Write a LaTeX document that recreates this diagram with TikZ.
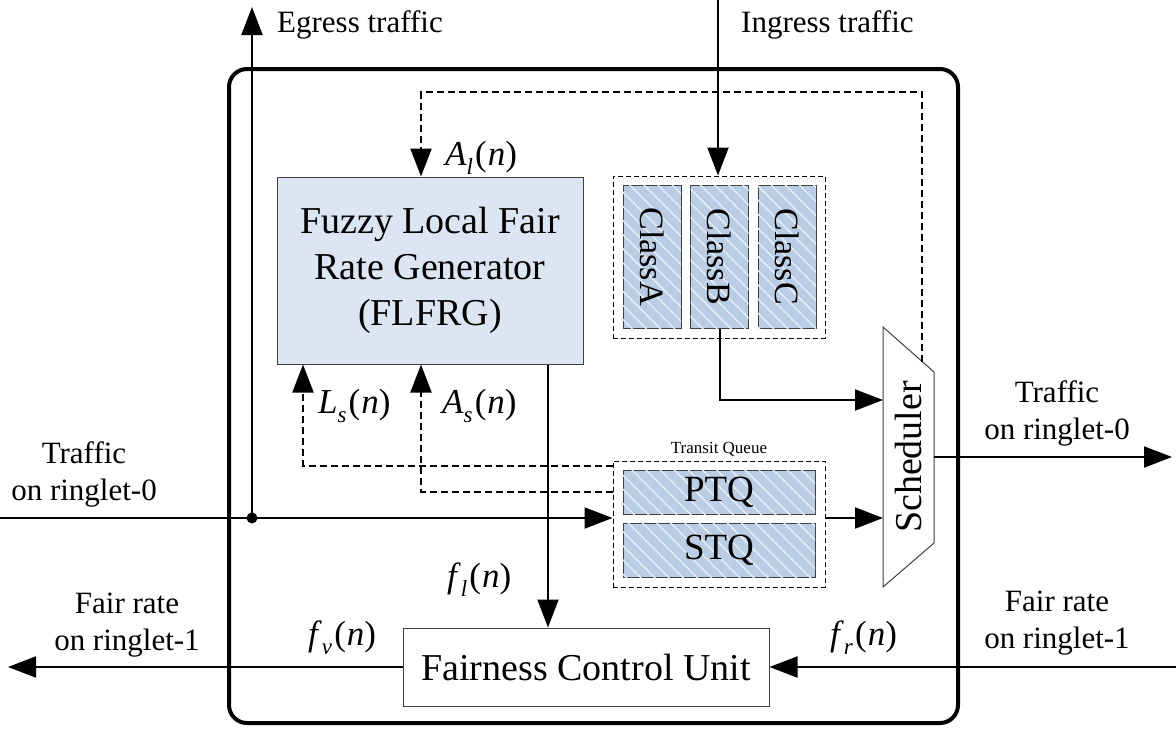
\documentclass[tikz,border=0pt]{standalone}
\usepackage{fontspec}
\setmainfont{Liberation Serif}
\usetikzlibrary{arrows.meta,patterns.meta}
\definecolor{genfill}{HTML}{DCE6F2}
\definecolor{queuefill}{HTML}{B9CDE5}
\definecolor{edgegray}{HTML}{404040}
% signal label: italic symbol, lowered italic index, then (n)
\newcommand{\sig}[2]{\textit{#1}\raisebox{-0.28em}{\fontsize{23}{23}\selectfont\textit{#2}}\kern0.06em(\kern0.03em\textit{n})}

\begin{document}
\begin{tikzpicture}[x=1pt,y=-1pt,
  conn/.style={line width=2pt,-{Triangle[length=28pt,width=21pt]}},
  dconn/.style={conn,dash pattern=on 7pt off 4pt},
  plain/.style={line width=2pt},
  frame/.style={draw,line width=4pt,rounded corners=18pt,minimum width=729pt,minimum height=654pt,inner sep=0pt},
  genbox/.style={draw=edgegray,line width=1pt,fill=genfill,inner sep=0pt,align=center,
    font=\fontsize{38}{46}\selectfont},
  unitbox/.style={draw=edgegray,line width=1pt,fill=white,inner sep=0pt,
    font=\fontsize{38}{46}\selectfont},
  queue/.style={draw=edgegray,line width=1pt,fill=queuefill,inner sep=0pt,
    postaction={pattern={Lines[angle=-45,distance=10pt,line width=1.3pt]},pattern color=white!70!queuefill}},
  group/.style={draw,line width=1pt,dash pattern=on 5pt off 3pt,inner sep=0pt},
  sidelbl/.style={align=center,font=\fontsize{31}{37}\selectfont,inner sep=0pt},
  siglbl/.style={font=\fontsize{35}{40}\selectfont,inner sep=0pt},
  dot/.style={circle,fill,inner sep=0pt,minimum size=11pt}
]
\useasboundingbox (0,0) rectangle (1176,729);

% node enclosure
\node[frame] (frame) at (593.5,396) {};

% rate generator and fairness control unit
\node[genbox,minimum width=306pt,minimum height=187pt] (flfrg) at (430,270.5)
  {Fuzzy Local Fair\\Rate Generator\\(FLFRG)};
\node[unitbox,minimum width=366pt,minimum height=78pt] (fcu) at (586,667) {Fairness Control Unit};

% class queues
\node[group,minimum width=212pt,minimum height=162pt] (classgrp) at (719,257) {};
\foreach \nm/\cx/\txt in {classA/652/ClassA,classB/719.5/ClassB,classC/787/ClassC}{
  \node[queue,minimum width=58pt,minimum height=143pt] (\nm) at (\cx,256.5) {};
  \node[rotate=-90,font=\fontsize{34}{40}\selectfont,inner sep=0pt] (\nm-t) at (\cx,256.5) {\txt};
}

% transit queues
\node[group,minimum width=212pt,minimum height=126pt] (transit) at (719,524) {};
\node[font=\fontsize{17}{20}\selectfont,inner sep=0pt,anchor=base] (tq) at (719,453) {Transit Queue};
\node[queue,minimum width=192pt,minimum height=44pt] (ptq) at (719,492) {};
\node[font=\fontsize{37}{44}\selectfont,inner sep=0pt] (ptq-t) at (719,492) {PTQ};
\node[queue,minimum width=192pt,minimum height=54pt] (stq) at (719,550) {};
\node[font=\fontsize{37}{44}\selectfont,inner sep=0pt] (stq-t) at (719,550) {STQ};

% scheduler
\coordinate (schA) at (883,327);
\coordinate (schB) at (934,372);
\coordinate (schC) at (934,543);
\coordinate (schD) at (883,587);
\draw[edgegray,line width=1pt,fill=white] (schA) -- (schB) -- (schC) -- (schD) -- cycle;
\node[rotate=90,font=\fontsize{38}{44}\selectfont,inner sep=0pt] (sched) at (908,457) {Scheduler};
\coordinate (schtap) at (922,361.5);
\coordinate (schout) at (934,457);

% outer end points
\coordinate (egtop) at (252,7);
\coordinate (intop) at (718,0);
\coordinate (trin) at (0,518);
\coordinate (trout) at (1172,457);
\coordinate (frout) at (8,667);
\coordinate (frin) at (1176,667);
\coordinate (fbtop) at (0,92);
\coordinate (clsrow) at (0,400);

% traffic paths
\draw[plain] (trin) -- (252,518);
\node[dot] (junc) at (252,518) {};
\draw[conn] (junc.center) -- (egtop);
\draw[conn] (junc.center) -- (transit.west |- trin);
\draw[conn] (intop) -- (intop |- classgrp.north);
\draw[conn] (classB.south) -- (classB.south |- clsrow) -- (schA |- clsrow);
\draw[conn] (transit.east |- trin) -- (schA |- trin);
\draw[conn] (schout) -- (trout);

% control signals
\draw[dconn] (schtap) -- (schtap |- fbtop) -| ([xshift=-9pt]flfrg.north);
\draw[dconn] ([yshift=-5pt]transit.north west) -| ([xshift=-127pt]flfrg.south);
\draw[dconn] ([yshift=-31pt]transit.north west) -| ([xshift=-9pt]flfrg.south);
\draw[conn] ([xshift=118pt]flfrg.south) -- ([xshift=118pt]flfrg.south |- fcu.north);
\draw[conn] (fcu.west) -- (frout);
\draw[conn] (frin) -- (fcu.east);

% signal labels
\node[siglbl,anchor=base west] (lal) at (445,165) {\sig{A}{l}};
\node[siglbl,anchor=base west] (lls) at (318,413) {\sig{L}{s}};
\node[siglbl,anchor=base west] (las) at (442,413) {\sig{A}{s}};
\node[siglbl,anchor=base west] (lfl) at (447,587) {\sig{f}{l}};
\node[siglbl,anchor=base west] (lfv) at (308,645) {\sig{f}{v}};
\node[siglbl,anchor=base west] (lfr) at (830,645) {\sig{f}{r}};

% side labels
\node[sidelbl,anchor=base west] (eg) at (277,32) {Egress traffic};
\node[sidelbl,anchor=base west] (ig) at (741,32) {Ingress traffic};
\node[sidelbl] (ltr) at (84,474) {Traffic\\on ringlet-0};
\node[sidelbl] (rtr) at (1057,413) {Traffic\\on ringlet-0};
\node[sidelbl] (lfr1) at (127,625) {Fair rate\\on ringlet-1};
\node[sidelbl] (rfr1) at (1057,623) {Fair rate\\on ringlet-1};
\end{tikzpicture}
\end{document}
